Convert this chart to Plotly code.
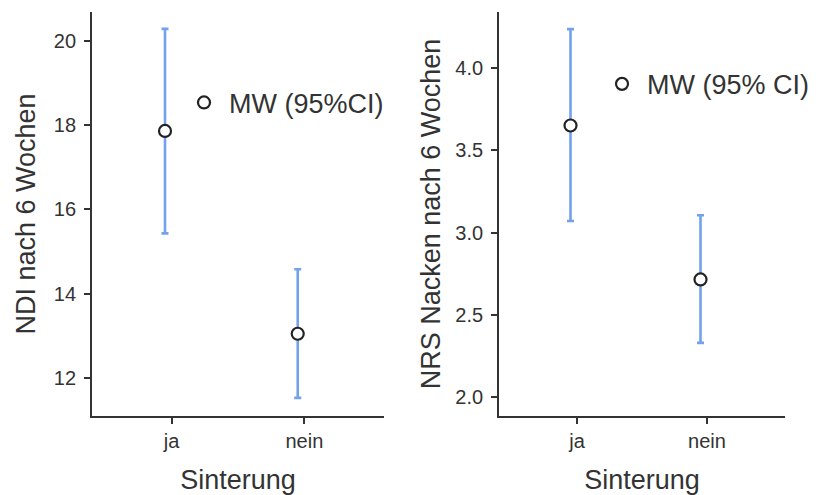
import plotly.graph_objects as go

# Sinterung groups
categories = ["ja", "nein"]

# NDI nach 6 Wochen: mean with 95% CI
ndi_mean = [17.86, 13.05]
ndi_lower = [15.43, 11.53]
ndi_upper = [20.28, 14.58]

# NRS Nacken nach 6 Wochen: mean with 95% CI
nrs_mean = [3.65, 2.715]
nrs_lower = [3.07, 2.33]
nrs_upper = [4.235, 3.105]

ndi_ticks = [12, 14, 16, 18, 20]
nrs_ticks = [2.0, 2.5, 3.0, 3.5, 4.0]

FONT = "Liberation Sans, Arial, Helvetica, sans-serif"
TEXT = "#333333"
AXIS = "#333333"
BAR = "#72A2EC"
DODGE = -0.05  # points sit slightly left of the category tick

xpos = [i + 1 + DODGE for i in range(len(categories))]


def ci_trace(mean, lower, upper, xa, ya, legend, name):
    return go.Scatter(
        x=xpos, y=mean, xaxis=xa, yaxis=ya, mode="markers", name=name,
        legend=legend, showlegend=True,
        marker=dict(symbol="circle", size=12, color="white",
                    line=dict(color="#222222", width=2.2)),
        error_y=dict(type="data", symmetric=False,
                     array=[u - m for u, m in zip(upper, mean)],
                     arrayminus=[m - l for m, l in zip(mean, lower)],
                     color=BAR, thickness=2.6, width=3.5),
    )


fig = go.Figure()
fig.add_trace(ci_trace(ndi_mean, ndi_lower, ndi_upper, "x", "y", "legend", "MW (95%CI)"))
fig.add_trace(ci_trace(nrs_mean, nrs_lower, nrs_upper, "x2", "y2", "legend2", "MW (95% CI)"))

xcommon = dict(
    range=[0.4, 2.6], tickmode="array", tickvals=[1, 2], ticktext=categories,
    showline=True, linecolor=AXIS, linewidth=1.8, ticks="outside", ticklen=6,
    tickwidth=1.8, tickcolor=AXIS, showgrid=False, zeroline=False,
    tickfont=dict(family=FONT, size=20, color=TEXT),
    title=dict(text="Sinterung", font=dict(family=FONT, size=27, color=TEXT), standoff=20),
)
ycommon = dict(
    showline=True, linecolor=AXIS, linewidth=1.8, ticks="outside", ticklen=6,
    tickwidth=1.8, tickcolor=AXIS, showgrid=False, zeroline=False,
    tickfont=dict(family=FONT, size=20, color=TEXT), ticklabelstandoff=4,
)

fig.update_layout(
    width=820, height=495,
    margin=dict(l=0, r=0, t=12, b=79),
    paper_bgcolor="white", plot_bgcolor="white",
    xaxis=dict(domain=[92 / 820, 384 / 820], anchor="y", **xcommon),
    xaxis2=dict(domain=[499 / 820, 785 / 820], anchor="y2", **xcommon),
    yaxis=dict(anchor="x", range=[11.1, 20.68], tickvals=ndi_ticks,
               ticktext=[str(t) for t in ndi_ticks],
               title=dict(text="NDI nach 6 Wochen",
                          font=dict(family=FONT, size=27, color=TEXT), standoff=10),
               **ycommon),
    yaxis2=dict(anchor="x2", range=[1.886, 4.339], tickvals=nrs_ticks,
                ticktext=[f"{t:.1f}" for t in nrs_ticks],
                title=dict(text="NRS Nacken nach 6 Wochen",
                           font=dict(family=FONT, size=27, color=TEXT), standoff=7),
                **ycommon),
    legend=dict(x=179 / 820, y=0.775, xanchor="left", yanchor="middle", itemwidth=40,
                bgcolor="rgba(0,0,0,0)", font=dict(family=FONT, size=27, color=TEXT)),
    legend2=dict(x=597 / 820, y=0.821, xanchor="left", yanchor="middle", itemwidth=40,
                 bgcolor="rgba(0,0,0,0)", font=dict(family=FONT, size=27, color=TEXT)),
)

fig.write_html("out.html")
